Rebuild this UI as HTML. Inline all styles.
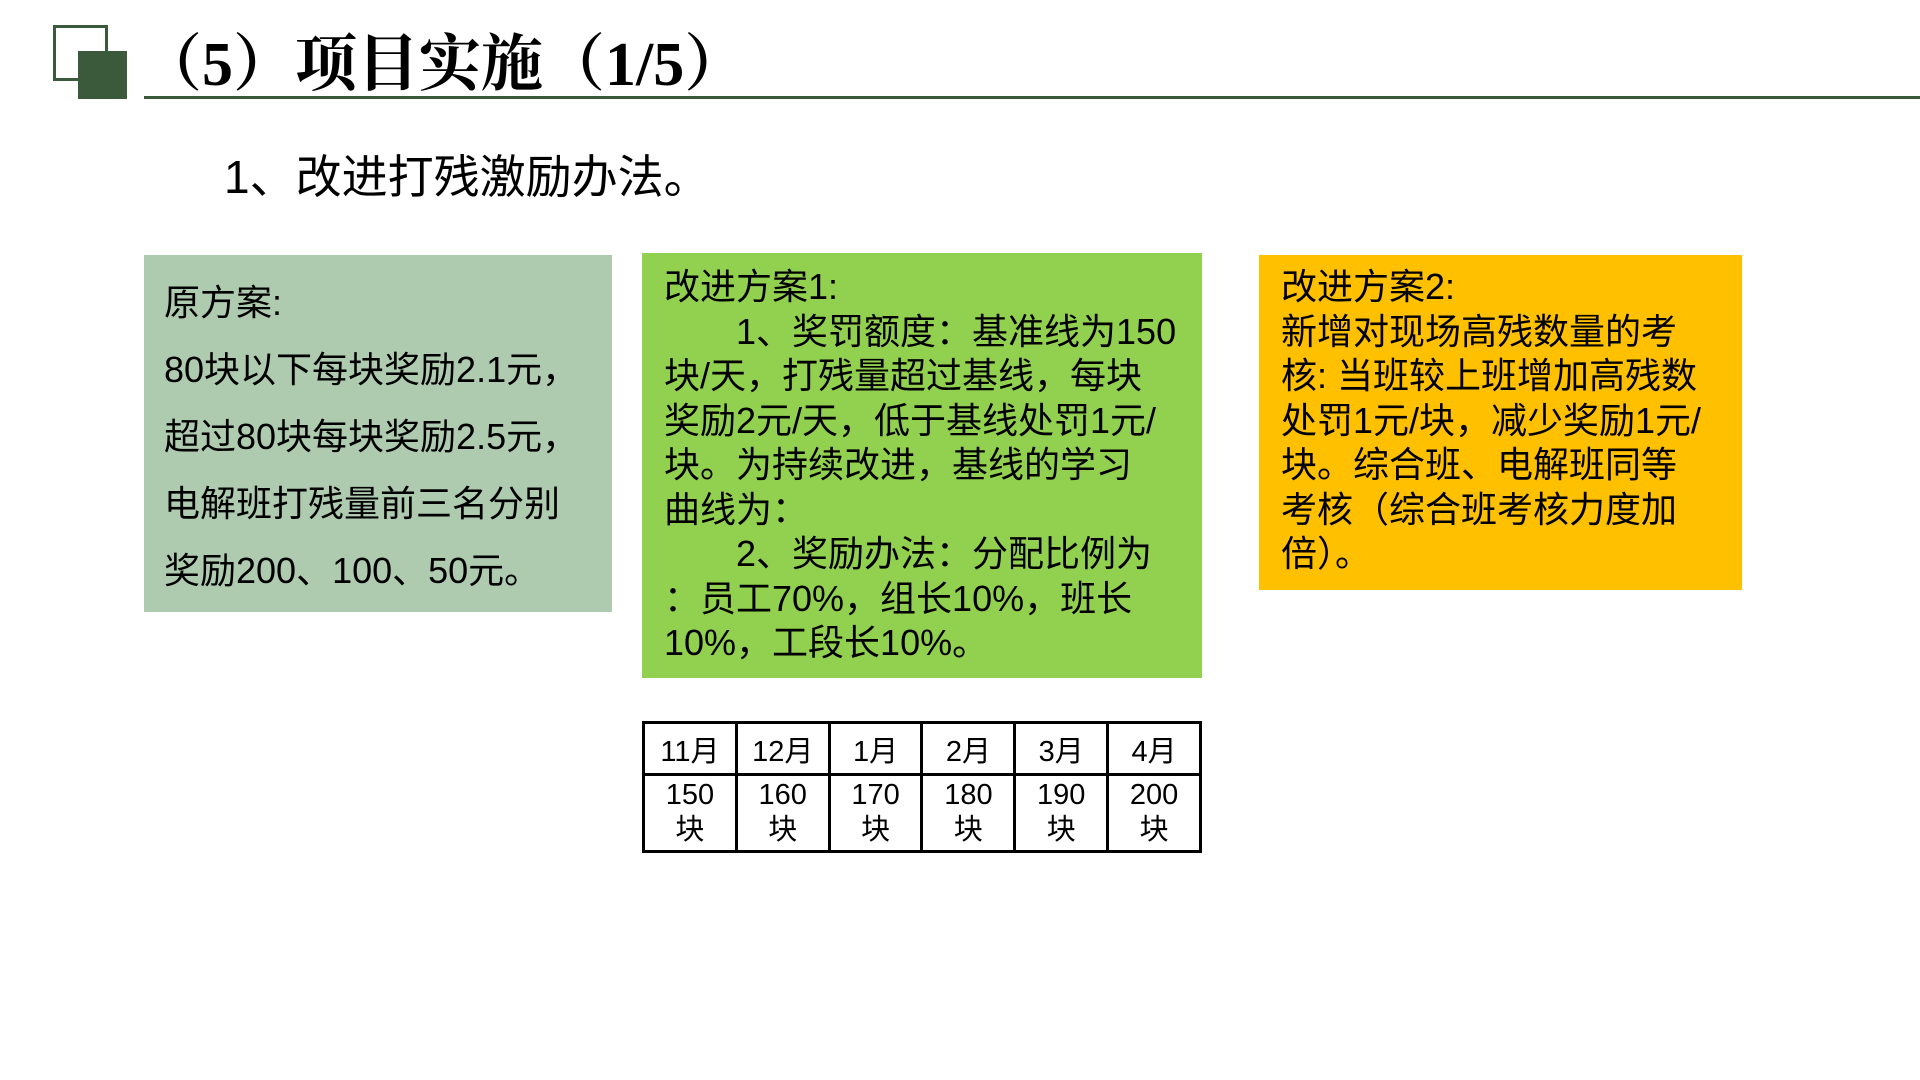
<!DOCTYPE html>
<html><head><meta charset="utf-8"><style>
html,body{margin:0;padding:0;background:#fff;}
body{width:1920px;height:1080px;position:relative;overflow:hidden;font-family:"Liberation Sans","Noto Sans CJK SC",sans-serif;color:#000;}
.abs{position:absolute;}
.box{position:absolute;box-sizing:border-box;font-size:36px;white-space:nowrap;}
table{border-collapse:collapse;position:absolute;left:642px;top:721px;width:560px;}
td{border:3px solid #000;text-align:center;font-size:29px;width:93px;padding:0;}
</style></head><body>
<div class="abs" style="left:53px;top:25px;width:55px;height:56px;border:3px solid #3b5a3c;box-sizing:border-box;"></div>
<div class="abs" style="left:78px;top:51px;width:49px;height:48px;background:#3b5a3c;"></div>
<div class="abs" style="left:144px;top:96px;width:1776px;height:3px;background:#3b5a3c;"></div>
<div class="abs" style="left:140px;top:24px;font-family:'Liberation Serif','Noto Serif CJK SC',serif;font-weight:bold;font-size:62px;line-height:82px;white-space:nowrap;">（5）项目实施（1/5）</div>
<div class="abs" style="left:224px;top:148px;font-size:46px;line-height:58px;white-space:nowrap;">1、改进打残激励办法。</div>

<div class="box" style="left:144px;top:255px;width:468px;height:357px;background:#aecbaf;padding:14px 0 0 20px;line-height:67px;">原方案:<br>80块以下每块奖励2.1元，<br>超过80块每块奖励2.5元，<br>电解班打残量前三名分别<br>奖励200、100、50元。</div>

<div class="box" style="left:642px;top:253px;width:560px;height:425px;background:#92d050;padding:12px 0 0 22px;line-height:44.5px;">改进方案1:<br>　　1、奖罚额度：基准线为150<br>块/天，打残量超过基线，每块<br>奖励2元/天，低于基线处罚1元/<br>块。为持续改进，基线的学习<br>曲线为：<br>　　2、奖励办法：分配比例为<br>：员工70%，组长10%，班长<br>10%，工段长10%。</div>

<div class="box" style="left:1259px;top:255px;width:483px;height:335px;background:#ffc000;padding:10px 0 0 22px;line-height:44.5px;">改进方案2:<br>新增对现场高残数量的考<br>核: 当班较上班增加高残数<br>处罚1元/块，减少奖励1元/<br>块。综合班、电解班同等<br>考核（综合班考核力度加<br>倍）。</div>

<table>
<tr style="height:52px"><td>11月</td><td>12月</td><td>1月</td><td>2月</td><td>3月</td><td>4月</td></tr>
<tr style="height:77px;line-height:35px"><td>150<br>块</td><td>160<br>块</td><td>170<br>块</td><td>180<br>块</td><td>190<br>块</td><td>200<br>块</td></tr>
</table>
</body></html>
